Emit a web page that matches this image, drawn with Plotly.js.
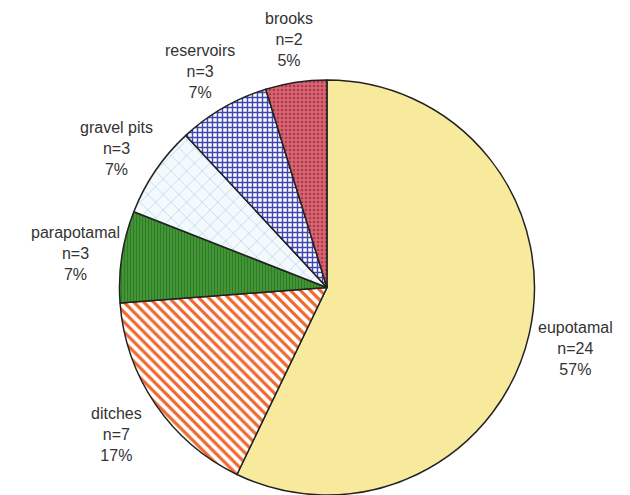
<!DOCTYPE html>
<html>
<head>
<meta charset="utf-8">
<script src="https://cdn.plot.ly/plotly-3.0.1.min.js"></script>
<style>html,body{margin:0;padding:0;background:#fff;}#chart{width:630px;height:495px;}</style>
</head>
<body>
<div id="chart"></div>
<script>
const categories = ["eupotamal", "ditches", "parapotamal", "gravel pits", "reservoirs", "brooks"];
const counts = [24, 7, 3, 3, 3, 2];

const baseColors = ["#F8EA9C", "#FFFFFF", "#4A9C3B", "#F3F9FC", "#FFFFFF", "#DA6470"];
const patternShapes = ["", "\\", "|", "x", "+", "."];
const patternFg = ["#F8EA9C", "#F0662C", "#2E7D24", "#BFDDEB", "#4046B2", "#A83A52"];
const patternBg = ["#F8EA9C", "#FFFFFF", "#4A9C3B", "#F3F9FC", "#FFFFFF", "#DA6470"];

const W = 630, H = 495;
const M = {l: 0, r: 0, t: 80, b: 0};
const domX = [0.038, 1];

const trace = {
  type: "pie",
  labels: categories,
  values: counts,
  sort: false,
  direction: "clockwise",
  rotation: 0,
  textinfo: "none",
  marker: {
    colors: baseColors,
    line: {color: "#222222", width: 1.5},
    pattern: {
      shape: patternShapes,
      fgcolor: patternFg,
      bgcolor: patternBg,
      fillmode: "replace",
      size: [8, 7, 3, 11, 5, 4],
      solidity: [0.5, 0.45, 0.5, 0.15, 0.5, 0.3]
    }
  },
  domain: {x: domX, y: [0, 1]},
  showlegend: false,
  automargin: false,
  hoverinfo: "none"
};

// label placement derived from slice mid-angles
const plotW = W - M.l - M.r, plotH = H - M.t - M.b;
const cx = M.l + plotW * (domX[0] + domX[1]) / 2;
const cy = M.t + plotH / 2;
const rad = Math.min(plotW * (domX[1] - domX[0]), plotH) / 2;
const labelR = rad + 47;
const total = counts.reduce((a, b) => a + b, 0);
let cum = 0;
const annotations = categories.map((name, i) => {
  const mid = (cum + counts[i] / 2) / total * 2 * Math.PI;
  cum += counts[i];
  const px = cx + labelR * Math.sin(mid);
  const py = cy - labelR * Math.cos(mid) + 4;
  const pct = Math.round(counts[i] / total * 100);
  return {
    xref: "paper", yref: "paper",
    x: (px - M.l) / plotW,
    y: (H - M.b - py) / plotH,
    xanchor: "center", yanchor: "middle",
    text: name + "<br>n=" + counts[i] + "<br>" + pct + "%",
    showarrow: false,
    align: "center",
    font: {family: "Liberation Sans, Arial, sans-serif", size: 16, color: "#333333"}
  };
});

const layout = {
  width: W,
  height: H,
  margin: M,
  paper_bgcolor: "#ffffff",
  showlegend: false,
  annotations: annotations
};

Plotly.newPlot("chart", [trace], layout, {displayModeBar: false, staticPlot: true});
</script>
</body>
</html>
